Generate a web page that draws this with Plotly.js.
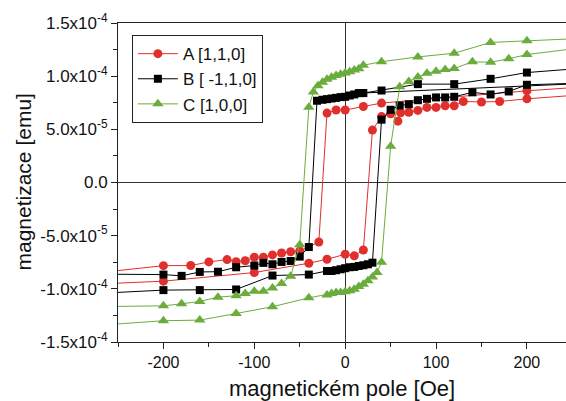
<!DOCTYPE html>
<html>
<head>
<meta charset="utf-8">
<script src="https://cdn.plot.ly/plotly-3.0.1.min.js"></script>
<style>html,body{margin:0;padding:0;background:#fff;}#chart{width:566px;height:401px;}</style>
</head>
<body>
<div id="chart"></div>
<script>
// ---- Data (field in Oe, magnetization in emu) ----
const seriesNames = ['A [1,1,0]', 'B [ -1,1,0]', 'C [1,0,0]'];

// Series A [1,1,0]: descending branch followed by ascending branch
const A_H = [300, 200, 40, 20, 0, -10, -20, -29, -50, -60, -70, -80, -90, -100, -110, -120, -130, -150, -170, -200, -300,
             -300, -200, -100, -40, -20, 0, 10, 20, 30, 40, 50, 58, 61, 70, 80, 90, 100, 110, 120, 130, 150, 170, 200, 300];
const A_M = [92.2e-6, 86.2e-6, 74.7e-6, 71.5e-6, 68.2e-6, 68.2e-6, 65.3e-6, -56.0e-6, -64.4e-6, -65.1e-6, -66.3e-6, -68.1e-6, -70.3e-6, -70.3e-6, -73.6e-6, -74.5e-6, -72.5e-6, -74.7e-6, -78.1e-6, -78.2e-6, -87.5e-6,
             -96.5e-6, -92.8e-6, -84.7e-6, -75.9e-6, -72.2e-6, -67.5e-6, -69.0e-6, -63.5e-6, 49.3e-6, 62.0e-6, 64.6e-6, 57.7e-6, 65.6e-6, 66.1e-6, 67.8e-6, 70.6e-6, 70.6e-6, 72.2e-6, 72.2e-6, 76.2e-6, 75.7e-6, 76.2e-6, 78.7e-6, 85.0e-6];

// Series B [-1,1,0]
const B_H = [300, 200, 160, 120, 80, 40, 20, 15, 10, 5, 0, -5, -10, -15, -20, -25, -31, -40, -50, -60, -70, -80, -90, -100, -120, -140, -160, -180, -200, -300,
             -300, -200, -160, -120, -80, -40, -20, -15, -10, -5, 0, 5, 10, 15, 20, 25, 30, 40, 50, 60, 70, 80, 90, 100, 110, 120, 140, 160, 180, 200, 300, 18];
const B_M = [110.0e-6, 103.4e-6, 97.5e-6, 92.5e-6, 92.5e-6, 86.5e-6, 84.1e-6, 84.1e-6, 82.8e-6, 81.8e-6, 80.6e-6, 80.3e-6, 79.6e-6, 79.0e-6, 78.4e-6, 77.8e-6, 76.9e-6, -60.7e-6, -69.7e-6, -73.8e-6, -74.7e-6, -76.9e-6, -75.6e-6, -78.1e-6, -79.7e-6, -83.9e-6, -84.1e-6, -87.8e-6, -86.6e-6, -86.0e-6,
             -105.5e-6, -101.2e-6, -101.2e-6, -100.6e-6, -87.5e-6, -86.6e-6, -83.2e-6, -83.2e-6, -82.5e-6, -81.6e-6, -80.6e-6, -79.7e-6, -79.4e-6, -78.5e-6, -77.8e-6, -76.9e-6, -75.4e-6, 59.1e-6, 68.4e-6, 72.4e-6, 73.6e-6, 77.4e-6, 78.7e-6, 80.0e-6, 80.0e-6, 80.6e-6, 84.8e-6, 82.8e-6, 85.6e-6, 91.9e-6, 94.5e-6, 84.1e-6];

// Series C [1,0,0]
const C_H = [300, 200, 160, 120, 80, 40, 20, 15, 10, 5, 0, -5, -10, -15, -20, -25, -30, -35, -40, -50, -60, -70, -80, -90, -100, -110, -120, -140, -160, -180, -200, -300,
             -300, -200, -160, -120, -80, -40, -20, -15, -10, -5, 0, 5, 10, 15, 20, 25, 30, 35, 40, 50, 60, 70, 80, 90, 100, 110, 120, 140, 160, 180, 200, 300];
const C_M = [137.0e-6, 133.3e-6, 131.7e-6, 121.6e-6, 118.1e-6, 113.6e-6, 110.3e-6, 107.0e-6, 105.7e-6, 104.1e-6, 103.0e-6, 101.9e-6, 100.6e-6, 99.0e-6, 97.0e-6, 94.2e-6, 91.0e-6, 85.2e-6, 70.7e-6, -58.5e-6, -88.1e-6, -94.9e-6, -99.2e-6, -102.2e-6, -102.2e-6, -104.5e-6, -106.5e-6, -107.8e-6, -111.8e-6, -114.1e-6, -116.0e-6, -117.0e-6,
             -136.0e-6, -130.0e-6, -129.4e-6, -123.2e-6, -116.8e-6, -108.5e-6, -105.7e-6, -104.4e-6, -103.4e-6, -103.4e-6, -102.8e-6, -101.9e-6, -100.3e-6, -97.8e-6, -95.6e-6, -92.5e-6, -88.8e-6, -84.7e-6, -75.0e-6, 34.0e-6, 90.0e-6, 95.0e-6, 99.1e-6, 102.8e-6, 104.7e-6, 106.3e-6, 107.2e-6, 113.5e-6, 113.1e-6, 116.4e-6, 120.3e-6, 131.0e-6];

// Tick labels and axis titles
const xTickVals = [-200, -100, 0, 100, 200];
const xTickText = ['-200', '-100', '0', '100', '200'];
const xMinorVals = [-250, -150, -50, 50, 150];
const yTickVals = [-1.5e-4, -1.0e-4, -5.0e-5, 0, 5.0e-5, 1.0e-4, 1.5e-4];
const yTickText = ['-1.5x10<sup>-4</sup>', '-1.0x10<sup>-4</sup>', '-5.0x10<sup>-5</sup>', '0.0',
                   '5.0x10<sup>-5</sup>', '1.0x10<sup>-4</sup>', '1.5x10<sup>-4</sup>'];
const yMinorVals = [-1.25e-4, -7.5e-5, -2.5e-5, 2.5e-5, 7.5e-5, 1.25e-4];
const xTitle = 'magnetickém pole [Oe]';
const yTitle = 'magnetizace [emu]';

const FONT = '"Liberation Sans", Arial, sans-serif';
const RED = '#e0302e', BLACK = '#000000', GREEN = '#6aad3d';

const traces = [
  {x: A_H, y: A_M, name: seriesNames[0], type: 'scatter', mode: 'lines+markers',
   line: {color: RED, width: 1}, marker: {symbol: 'circle', size: 9, color: RED}},
  {x: B_H, y: B_M, name: seriesNames[1], type: 'scatter', mode: 'lines+markers',
   line: {color: BLACK, width: 1}, marker: {symbol: 'square', size: 8, color: BLACK}},
  {x: C_H, y: C_M, name: seriesNames[2], type: 'scatter', mode: 'lines+markers',
   line: {color: GREEN, width: 1}, marker: {symbol: 'triangle-up', size: 10, color: GREEN}}
];

const axisCommon = {
  showgrid: false, showline: true, linecolor: '#222', linewidth: 1,
  zeroline: true, zerolinecolor: '#333', zerolinewidth: 1.2,
  ticks: 'outside', ticklen: 6, tickwidth: 1, tickcolor: '#222'
};

const layout = {
  width: 566, height: 401,
  margin: {l: 118, r: 0, t: 23, b: 59, pad: 0},
  paper_bgcolor: '#fff', plot_bgcolor: '#fff',
  font: {family: FONT, color: '#111'},
  showlegend: true,
  legend: {x: 0.031, y: 0.962, xanchor: 'left', yanchor: 'top',
           bgcolor: '#fff', bordercolor: '#222', borderwidth: 1,
           font: {family: FONT, size: 17, color: '#111'}, itemwidth: 40, tracegroupgap: 0},
  xaxis: Object.assign({}, axisCommon, {
    range: [-250, 243], mirror: true,
    tickmode: 'array', tickvals: xTickVals, ticktext: xTickText,
    tickfont: {family: FONT, size: 16, color: '#111'},
    minor: {tickmode: 'array', tickvals: xMinorVals, ticks: 'outside', ticklen: 4, tickcolor: '#222', showgrid: false},
    title: {text: xTitle, font: {family: FONT, size: 22, color: '#111'}, standoff: 17}
  }),
  yaxis: Object.assign({}, axisCommon, {
    range: [-1.5e-4, 1.5e-4],
    tickmode: 'array', tickvals: yTickVals, ticktext: yTickText,
    tickfont: {family: FONT, size: 17, color: '#111'},
    minor: {tickmode: 'array', tickvals: yMinorVals, ticks: 'outside', ticklen: 4, tickcolor: '#222', showgrid: false}
  }),
  annotations: [{
    text: yTitle, xref: 'paper', yref: 'paper', x: -0.212, y: 0.5,
    xanchor: 'center', yanchor: 'middle', textangle: -90, showarrow: false,
    font: {family: FONT, size: 21, color: '#111'}
  }]
};

Plotly.newPlot('chart', traces, layout, {staticPlot: true, displayModeBar: false});
</script>
</body>
</html>
